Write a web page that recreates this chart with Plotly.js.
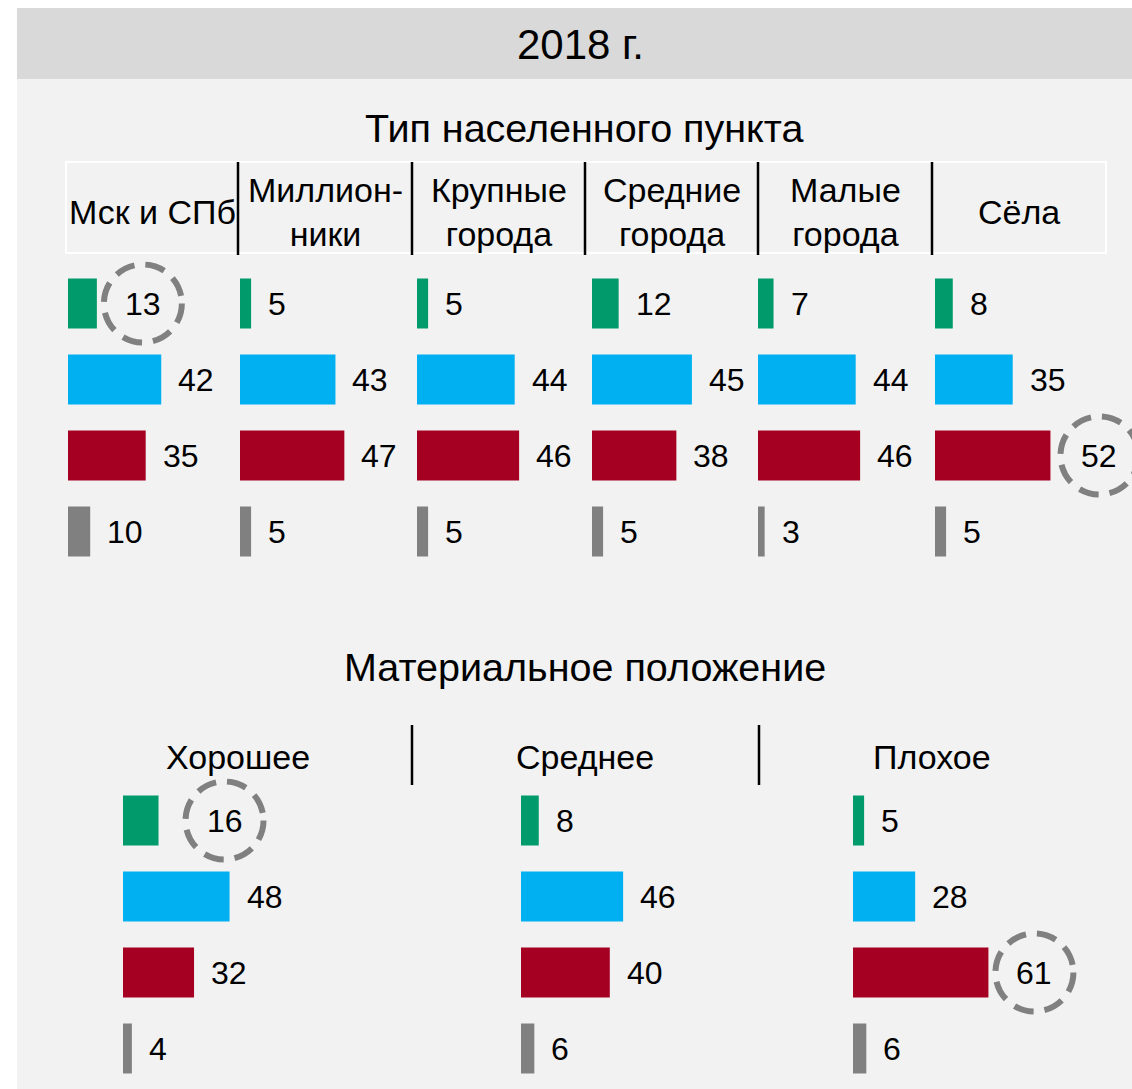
<!DOCTYPE html>
<html>
<head>
<meta charset="utf-8">
<script src="https://cdn.plot.ly/plotly-3.0.1.min.js"></script>
<style>
  html, body { margin: 0; padding: 0; background: #fff; }
  #chart { width: 1132px; height: 1089px; }
</style>
</head>
<body>
<div id="chart"></div>
<script>
// answer options (rows, top to bottom) - not labelled in the picture
const answers = ['opt1', 'opt2', 'opt3', 'opt4'];
const seriesColors = ['#009A6B', '#00B0F0', '#A50021', '#808080'];

// Тип населенного пункта
const settlements = ['Мск и СПб', 'Миллион-<br>ники', 'Крупные<br>города', 'Средние<br>города', 'Малые<br>города', 'Сёла'];
const setGreen = [13, 5, 5, 12, 7, 8];
const setBlue  = [42, 43, 44, 45, 44, 35];
const setRed   = [35, 47, 46, 38, 46, 52];
const setGray  = [10, 5, 5, 5, 3, 5];
// highlighted cells: [row, column]
const setCircled = [[0, 0], [2, 5]];

// Материальное положение
const wealth = ['Хорошее', 'Среднее', 'Плохое'];
const wGreen = [16, 8, 5];
const wBlue  = [48, 46, 28];
const wRed   = [32, 40, 61];
const wGray  = [4, 6, 6];
const wCircled = [[0, 0], [2, 2]];

const W = 1132, H = 1089;
const px = v => v / W;
const py = v => 1 - v / H;
const pxPerUnit = 2.22;
const font = 'Liberation Sans, Arial, sans-serif';

const traces = [];
const annotations = [];
const shapes = [];
const layout = {
    width: W, height: H,
    margin: {l: 0, r: 0, t: 0, b: 0},
    paper_bgcolor: '#ffffff',
    plot_bgcolor: 'rgba(0,0,0,0)',
    showlegend: false,
    bargap: 0.34,
    font: {family: font, color: '#000'},
    annotations: annotations,
    shapes: shapes
};

// backgrounds
shapes.push({type: 'rect', xref: 'paper', yref: 'paper', layer: 'below',
    x0: px(17), x1: 1, y0: py(1089), y1: py(79), fillcolor: '#f2f2f2', line: {width: 0}});
shapes.push({type: 'rect', xref: 'paper', yref: 'paper', layer: 'below',
    x0: px(17), x1: 1, y0: py(79), y1: py(8), fillcolor: '#d9d9d9', line: {width: 0}});

function text(t, x, y, size, xanchor) {
    annotations.push({text: t, xref: 'paper', yref: 'paper', x: px(x), y: py(y),
        xanchor: xanchor || 'center', yanchor: 'middle', showarrow: false,
        font: {size: size, family: font, color: '#000'}});
}

text('2018 г.', 580, 45, 42);
text('Тип населенного пункта', 584, 128, 39.5);
text('Материальное положение', 585, 667, 39.5);

// one panel = a set of bars for one column
let axisIdx = 0;
function panel(yName, barStart, widthPx, values, circled, col) {
    axisIdx++;
    const xName = axisIdx === 1 ? 'x' : 'x' + axisIdx;
    const xKey = axisIdx === 1 ? 'xaxis' : 'xaxis' + axisIdx;
    layout[xKey] = {
        domain: [px(barStart), Math.min(1, px(barStart + widthPx))],
        range: [0, widthPx / pxPerUnit],
        anchor: yName, visible: false, fixedrange: true
    };
    traces.push({
        type: 'bar', orientation: 'h',
        x: values, y: answers,
        xaxis: xName, yaxis: yName,
        marker: {color: seriesColors},
        hoverinfo: 'none'
    });
    values.forEach((v, r) => {
        const hit = circled.find(c => c[0] === r && c[1] === col);
        if (hit) {
            const off = hit[2];
            annotations.push({text: String(v), xref: xName, yref: yName, x: v, y: answers[r],
                xanchor: 'center', yanchor: 'middle', xshift: off, showarrow: false,
                font: {size: 32, family: font, color: '#000'}});
            shapes.push({type: 'circle', xref: xName, yref: yName,
                xsizemode: 'pixel', ysizemode: 'pixel', xanchor: v, yanchor: answers[r],
                x0: off - 39, x1: off + 39, y0: -39, y1: 39,
                line: {color: '#808080', width: 6, dash: '20px,11px'}});
        } else {
            annotations.push({text: String(v), xref: xName, yref: yName, x: v, y: answers[r],
                xanchor: 'left', yanchor: 'middle', xshift: 15, showarrow: false,
                font: {size: 32, family: font, color: '#000'}});
        }
    });
}

// label offsets (px) for circled values
setCircled[0].push(46); setCircled[1].push(49);
wCircled[0].push(66); wCircled[1].push(46);

// top section
layout.yaxis = {
    domain: [py(569.5), py(261.5)], type: 'category', categoryarray: answers,
    autorange: 'reversed', visible: false, fixedrange: true
};
const setCols = [66, 238, 412, 585, 758, 932, 1106];
const setBarStart = [68, 240, 417, 592, 758, 935];
settlements.forEach((s, i) => {
    panel('y', setBarStart[i], 197, [setGreen[i], setBlue[i], setRed[i], setGray[i]], setCircled, i);
    text(s, (setCols[i] + setCols[i + 1]) / 2, 212, 34);
});
shapes.push({type: 'rect', xref: 'paper', yref: 'paper', x0: px(66), x1: px(1106),
    y0: py(253), y1: py(162), line: {color: '#ffffff', width: 2}});
setCols.slice(1, 6).forEach(x => {
    shapes.push({type: 'line', xref: 'paper', yref: 'paper', x0: px(x), x1: px(x),
        y0: py(255), y1: py(162), line: {color: '#000', width: 2.5}});
});

// bottom section
layout.yaxis2 = {
    domain: [py(1086.5), py(778.5)], type: 'category', categoryarray: answers,
    autorange: 'reversed', visible: false, fixedrange: true
};
const wBarStart = [123, 521, 853];
const wCenters = [238, 585, 932];
wealth.forEach((s, i) => {
    panel('y2', wBarStart[i], 275, [wGreen[i], wBlue[i], wRed[i], wGray[i]], wCircled, i);
    text(s, wCenters[i], 757, 34);
});
[412, 759].forEach(x => {
    shapes.push({type: 'line', xref: 'paper', yref: 'paper', x0: px(x), x1: px(x),
        y0: py(785), y1: py(725), line: {color: '#000', width: 2.5}});
});

Plotly.newPlot('chart', traces, layout, {displayModeBar: false, staticPlot: true});
</script>
</body>
</html>
